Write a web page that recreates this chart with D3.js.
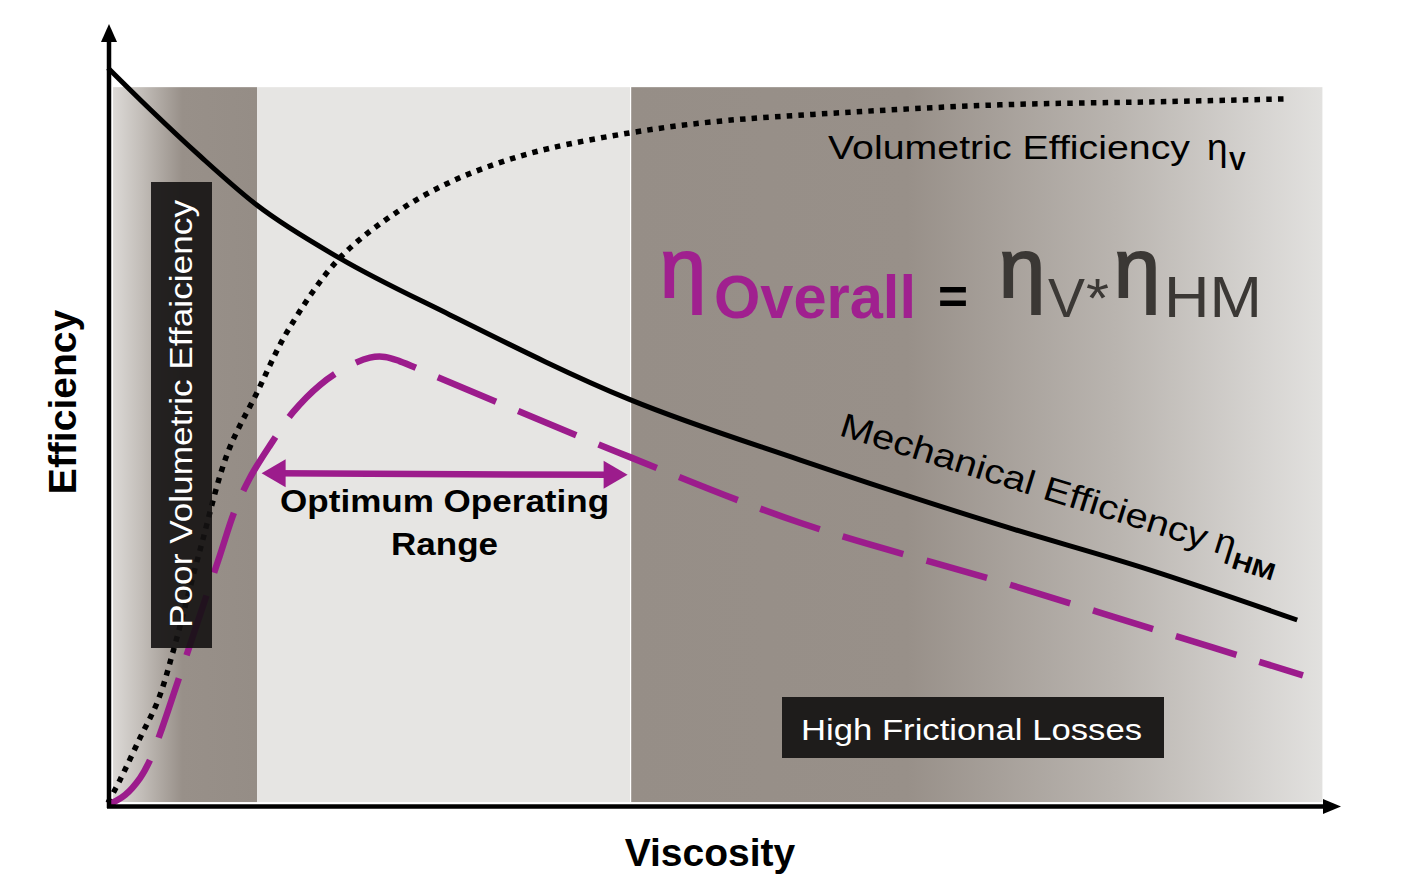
<!DOCTYPE html>
<html>
<head>
<meta charset="utf-8">
<script src="https://cdn.jsdelivr.net/npm/d3@7"></script>
<style>
  html, body { margin: 0; padding: 0; background: #ffffff; }
  svg { display: block; font-family: "Liberation Sans", Arial, sans-serif; }
</style>
</head>
<body>
<svg id="chart" width="1424" height="882"></svg>
<script>
// ---------- data (viscosity 0-100, efficiency 0-100) ----------
const mechX = [0, 3.5, 7.7, 12.4, 19.3, 28.5, 43.5, 57.7, 74.3, 86.8, 99.1];
const mechY = [100, 94.4, 88.0, 81.4, 74.2, 66.5, 55.0, 46.8, 38.0, 31.9, 25.1];

const volX = [0, 1.0, 2.67, 4.17, 5.42, 7.67, 10.0, 12.4, 15.0, 19.3, 24.3, 28.5, 32.7, 36.8, 43.5, 50.4, 61.8, 74.3, 86.8, 98.1];
const volY = [0.3, 3.4, 9.1, 14.2, 20.8, 34.6, 47.9, 55.9, 64.4, 74.2, 80.7, 84.5, 87.2, 89.1, 91.2, 92.7, 94.0, 95.0, 95.4, 95.8];

const overallX = [0, 1.42, 2.67, 3.5, 4.5, 5.58, 6.83, 8.08, 9.33, 10.58, 11.83, 13.5, 15.42, 17.67, 19.75, 21.83, 23.08, 24.33, 26.83, 32.67, 43.5, 57.67, 74.33, 86.83, 99.58];
const overallY = [0, 1.36, 3.66, 6.1, 10.4, 15.6, 21.7, 27.8, 33.9, 40.0, 44.4, 48.8, 53.3, 57.0, 59.3, 60.7, 60.8, 60.2, 58.5, 54.5, 47.2, 38.3, 30.3, 24.0, 17.6];

// zones along viscosity: poor volumetric | optimum | high friction
const zoneNames = ["Poor Volumetric Effaiciency", "Optimum Operating Range", "High Frictional Losses"];
const zoneStart = [0.42, 12.42, 43.6];
const zoneEnd = [12.42, 43.5, 101.2];
const zoneTop = 97.4;
const optimumRange = [12.8, 43.3];
const optimumLevel = 45;

// ---------- scales ----------
const svg = d3.select("#chart");
const x = d3.scaleLinear().domain([0, 100]).range([108, 1308]);
const y = d3.scaleLinear().domain([0, 100]).range([805, 68]);

const defs = svg.append("defs");
const gLeft = defs.append("linearGradient").attr("id", "gLeft").attr("x1", "0").attr("x2", "1").attr("y1", "0").attr("y2", "0");
gLeft.append("stop").attr("offset", "0").attr("stop-color", "#dcd9d6");
gLeft.append("stop").attr("offset", "0.2").attr("stop-color", "#c2bdb8");
gLeft.append("stop").attr("offset", "0.48").attr("stop-color", "#989089");
gLeft.append("stop").attr("offset", "1").attr("stop-color", "#958d86");
const gRight = defs.append("linearGradient").attr("id", "gRight").attr("x1", "0").attr("x2", "1").attr("y1", "0").attr("y2", "0");
gRight.append("stop").attr("offset", "0").attr("stop-color", "#968e87");
gRight.append("stop").attr("offset", "0.4").attr("stop-color", "#989089");
gRight.append("stop").attr("offset", "0.7").attr("stop-color", "#b9b4af");
gRight.append("stop").attr("offset", "1").attr("stop-color", "#e2e1df");

const zoneFill = ["url(#gLeft)", "#e6e5e3", "url(#gRight)"];
svg.append("g").selectAll("rect").data(zoneStart).join("rect")
  .attr("x", (d) => x(d))
  .attr("y", y(zoneTop))
  .attr("width", (d, i) => x(zoneEnd[i]) - x(d))
  .attr("height", y(0.4) - y(zoneTop))
  .attr("fill", (d, i) => zoneFill[i]);

// ---------- curves ----------
const smooth = d3.line().x((d) => x(d[0])).y((d) => y(d[1])).curve(d3.curveMonotoneX);
const peak = d3.line().x((d) => x(d[0])).y((d) => y(d[1])).curve(d3.curveCatmullRom.alpha(0.5));
const vol = volX.map((v, i) => [v, volY[i]]);
const mech = mechX.map((v, i) => [v, mechY[i]]);
const overall = overallX.map((v, i) => [v, overallY[i]]);

svg.append("path").attr("d", peak(vol)).attr("fill", "none")
  .attr("stroke", "#000").attr("stroke-width", 5.5).attr("stroke-dasharray", "5.5 6.2");
svg.append("path").attr("d", smooth(mech)).attr("fill", "none")
  .attr("stroke", "#000").attr("stroke-width", 5);
svg.append("path").attr("d", peak(overall)).attr("fill", "none")
  .attr("stroke", "#9c1c8c").attr("stroke-width", 6.5).attr("stroke-dasharray", "63 24");

// ---------- optimum arrow ----------
const ay = y(optimumLevel);
const ax0 = x(optimumRange[0]), ax1 = x(optimumRange[1]);
svg.append("line").attr("x1", ax0 + 15).attr("x2", ax1 - 15).attr("y1", ay).attr("y2", ay + 1.5)
  .attr("stroke", "#9c1c8c").attr("stroke-width", 6.5);
svg.append("path").attr("d", `M${ax0},${ay} L${ax0 + 24},${ay - 14} L${ax0 + 24},${ay + 14} Z`).attr("fill", "#9c1c8c");
svg.append("path").attr("d", `M${ax1},${ay + 1.5} L${ax1 - 24},${ay - 12.5} L${ax1 - 24},${ay + 15.5} Z`).attr("fill", "#9c1c8c");

svg.append("text").attr("x", (ax0 + ax1) / 2).attr("y", 512).attr("text-anchor", "middle")
  .attr("font-weight", "bold").attr("font-size", 31).attr("textLength", 329).attr("lengthAdjust", "spacingAndGlyphs")
  .text("Optimum Operating");
svg.append("text").attr("x", (ax0 + ax1) / 2).attr("y", 555).attr("text-anchor", "middle")
  .attr("font-weight", "bold").attr("font-size", 31).attr("textLength", 107).attr("lengthAdjust", "spacingAndGlyphs")
  .text("Range");

// ---------- zone label boxes ----------
svg.append("rect").attr("x", 151).attr("y", 182).attr("width", 61).attr("height", 466)
  .attr("fill", "#141212").attr("fill-opacity", 0.9);
svg.append("text").attr("transform", "translate(192,414) rotate(-90)").attr("text-anchor", "middle")
  .attr("fill", "#fff").attr("font-size", 32).attr("textLength", 428).attr("lengthAdjust", "spacingAndGlyphs")
  .text(zoneNames[0]);

svg.append("rect").attr("x", 782).attr("y", 697).attr("width", 382).attr("height", 61).attr("fill", "#1e1c1b");
svg.append("text").attr("x", 801).attr("y", 740).attr("fill", "#fff").attr("font-size", 30)
  .attr("textLength", 341).attr("lengthAdjust", "spacingAndGlyphs").text(zoneNames[2]);

// ---------- curve labels ----------
const vt = svg.append("text").attr("font-size", 34);
vt.append("tspan").attr("x", 828).attr("y", 159)
  .attr("textLength", 362).attr("lengthAdjust", "spacingAndGlyphs").text("Volumetric Efficiency");
vt.append("tspan").attr("x", 1207).attr("y", 160).attr("font-size", 37).text("η");
vt.append("tspan").attr("x", 1229).attr("y", 170).attr("font-size", 25).attr("font-weight", "bold").text("V");

const mt = svg.append("text").attr("transform", "translate(838,435) rotate(17.3)").attr("font-size", 34);
mt.append("tspan").attr("x", 0).attr("y", 0)
  .attr("textLength", 383).attr("lengthAdjust", "spacingAndGlyphs").text("Mechanical Efficiency");
mt.append("tspan").attr("x", 392).attr("y", 0).attr("font-size", 37).text("η");
mt.append("tspan").attr("x", 414).attr("y", 10).attr("font-size", 24).attr("font-weight", "bold")
  .attr("textLength", 44).attr("lengthAdjust", "spacingAndGlyphs").text("HM");

// ---------- formula (each piece fitted to its width with a transform) ----------
function fitted(str, x0, y0, w, size, fill, weight, thick) {
  const t = svg.append("text").attr("x", 0).attr("y", 0).attr("font-size", size)
    .attr("fill", fill).attr("font-weight", weight || "normal").text(str);
  if (thick) t.attr("stroke", fill).attr("stroke-width", thick);
  const n = t.node().getComputedTextLength();
  t.attr("transform", `translate(${x0},${y0}) scale(${w / n},1)`);
  return t;
}
fitted("η", 660, 297, 46, 84, "#a0208f", "normal", 2.2);
fitted("Overall", 714, 318, 202, 61, "#a0208f", "bold");
fitted("=", 938, 314, 30, 50, "#000", "bold");
fitted("η", 999, 297, 46, 84, "#3b3835", "normal", 2.2);
fitted("V", 1048, 317, 37, 55, "#3b3835");
fitted("*", 1086, 317, 23, 55, "#3b3835");
fitted("η", 1114, 297, 46, 84, "#3b3835", "normal", 2.2);
fitted("HM", 1164, 317, 98, 57, "#3b3835");

// ---------- axes ----------
svg.append("line").attr("x1", 109).attr("x2", 109).attr("y1", 808).attr("y2", 38)
  .attr("stroke", "#000").attr("stroke-width", 4.5);
svg.append("path").attr("d", "M109,24 L101,42 L117,42 Z").attr("fill", "#000");
svg.append("line").attr("x1", 107).attr("x2", 1326).attr("y1", 806.5).attr("y2", 806.5)
  .attr("stroke", "#000").attr("stroke-width", 4.5);
svg.append("path").attr("d", "M1341,806.5 L1323,799 L1323,814 Z").attr("fill", "#000");

svg.append("text").attr("transform", "translate(76,402) rotate(-90)").attr("text-anchor", "middle")
  .attr("font-weight", "bold").attr("font-size", 39).text("Efficiency");
svg.append("text").attr("x", 710).attr("y", 866).attr("text-anchor", "middle")
  .attr("font-weight", "bold").attr("font-size", 39).text("Viscosity");
</script>
</body>
</html>
